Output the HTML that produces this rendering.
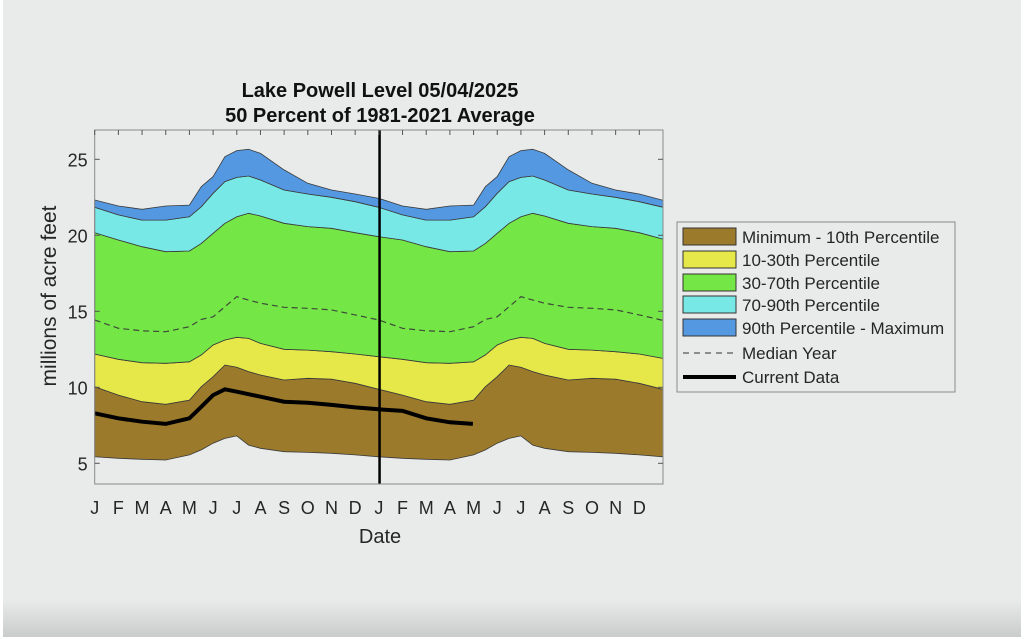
<!DOCTYPE html>
<html><head><meta charset="utf-8"><style>
html,body{margin:0;padding:0;background:#fff;}
#wrap{position:absolute;left:3px;top:0;width:1018px;height:637px;background:linear-gradient(#e8ebea 0,#e8ebea 600px,#c9cccb 637px);}
svg{position:absolute;left:0;top:0;}
text{font-family:"Liberation Sans",Arial,sans-serif;fill:#262626;}
</style></head><body>
<div id="wrap"></div>
<svg id="chart" width="1024" height="639"></svg>
<script>
const months=[0,1,2,3,4,4.5,5,5.5,6,6.5,7,8,9,10,11,12,13,14,15,16,16.5,17,17.5,18,18.5,19,20,21,22,23,24];
const minV=[5.43,5.33,5.26,5.22,5.55,5.88,6.32,6.64,6.8,6.2,5.99,5.76,5.72,5.66,5.55,5.43,5.33,5.26,5.22,5.55,5.88,6.32,6.64,6.8,6.2,5.99,5.76,5.72,5.66,5.55,5.43];
const p10=[10.04,9.49,9.05,8.88,9.16,10.04,10.7,11.47,11.32,11.03,10.81,10.48,10.59,10.53,10.26,9.87,9.49,9.05,8.88,9.16,10.04,10.7,11.47,11.32,11.03,10.81,10.48,10.59,10.53,10.26,9.87];
const p30=[12.19,11.84,11.62,11.58,11.68,12.13,12.78,13.11,13.29,13.22,12.89,12.5,12.45,12.34,12.19,12.01,11.84,11.62,11.58,11.68,12.13,12.78,13.11,13.29,13.22,12.89,12.5,12.45,12.34,12.19,11.9];
const p70=[20.17,19.69,19.25,18.92,18.97,19.47,20.13,20.79,21.22,21.45,21.27,20.79,20.57,20.46,20.17,19.91,19.69,19.25,18.92,18.97,19.47,20.13,20.79,21.22,21.45,21.27,20.79,20.57,20.46,20.17,19.75];
const p90=[21.84,21.34,21.0,21.0,21.22,21.88,22.76,23.53,23.81,23.9,23.64,22.98,22.72,22.5,22.21,21.84,21.34,21.0,21.0,21.22,21.88,22.76,23.53,23.81,23.9,23.64,22.98,22.72,22.5,22.21,21.85];
const maxV=[22.32,21.93,21.71,21.93,21.99,23.2,23.86,25.17,25.57,25.66,25.39,24.3,23.42,22.98,22.72,22.43,21.93,21.71,21.93,21.99,23.2,23.86,25.17,25.57,25.66,25.39,24.3,23.42,22.98,22.72,22.3];
const median=[14.43,13.88,13.72,13.66,13.99,14.47,14.64,15.3,15.96,15.74,15.53,15.26,15.2,15.09,14.76,14.43,13.88,13.72,13.66,13.99,14.47,14.64,15.3,15.96,15.74,15.53,15.26,15.2,15.09,14.76,14.4];
const currentMonths=[0,1,2,3,4,4.5,5,5.5,6,7,8,9,10,11,12,13,14,15,15.97];
const currentV=[8.29,7.96,7.74,7.59,7.96,8.72,9.49,9.87,9.71,9.38,9.05,8.99,8.84,8.68,8.55,8.45,7.96,7.7,7.59];
const todayMonth=12.03;
const yTicks=[5,10,15,20,25];
const monthLabels=["J","F","M","A","M","J","J","A","S","O","N","D","J","F","M","A","M","J","J","A","S","O","N","D"];

const L=94.7,R=663,T=130,B=484;
const X=m=>L+m*(R-L)/24;
const Y=v=>463.3-(v-5)*15.2;
const NS="http://www.w3.org/2000/svg";
const svg=document.getElementById('chart');
function mk(tag,attrs,parent){const e=document.createElementNS(NS,tag);for(const k in attrs)e.setAttribute(k,attrs[k]);(parent||svg).appendChild(e);return e;}
function line(ms,vs){return ms.map((m,i)=>(i?'L':'M')+X(m).toFixed(1)+','+Y(vs[i]).toFixed(1)).join('');}
function band(lo,hi){let d=line(months,hi);for(let i=months.length-1;i>=0;i--)d+='L'+X(months[i]).toFixed(1)+','+Y(lo[i]).toFixed(1);return d+'Z';}

const bands=[[minV,p10,'#9c7a2c','band-min-10th'],[p10,p30,'#e6e84a','band-10-30th'],[p30,p70,'#74e646','band-30-70th'],[p70,p90,'#78e8e6','band-70-90th'],[p90,maxV,'#5498e2','band-90th-max']];
bands.forEach(b=>{
  const p=mk('path',{d:band(b[0],b[1]),fill:b[2],stroke:'#3a3a3a','stroke-width':0.8});
  
  
});
const med=mk('path',{d:line(months,median),fill:'none',stroke:'#3f4a3a','stroke-width':1.2,'stroke-dasharray':'6,4'});


const cur=mk('path',{d:line(currentMonths,currentV),fill:'none',stroke:'#000','stroke-width':4});


const tl=mk('line',{x1:X(todayMonth),x2:X(todayMonth),y1:T,y2:B,stroke:'#000','stroke-width':2.5});



const box=mk('rect',{x:L,y:T,width:R-L,height:B-T,fill:'none',stroke:'#8a8a8a','stroke-width':1});



monthLabels.forEach((lab,i)=>{
  mk('line',{x1:X(i),x2:X(i),y1:T,y2:T+5,stroke:'#555','stroke-width':1});
  const t=mk('text',{x:X(i),y:514,'text-anchor':'middle','font-size':18});
  t.textContent=lab;
  
  
});
yTicks.forEach(v=>{
  mk('line',{x1:L,x2:L+5,y1:Y(v),y2:Y(v),stroke:'#555','stroke-width':1});
  mk('line',{x1:R-5,x2:R,y1:Y(v),y2:Y(v),stroke:'#555','stroke-width':1});
  const t=mk('text',{x:L-7,y:Y(v)+7,'text-anchor':'end','font-size':18});
  t.textContent=v;
  
  
});
</script>
<svg width="1024" height="639" style="position:absolute;left:0;top:0;pointer-events:none">
<text x="380" y="97" text-anchor="middle" font-size="20" font-weight="bold" style="fill:#111">Lake Powell Level 05/04/2025</text>
<text x="380" y="122" text-anchor="middle" font-size="20" font-weight="bold" style="fill:#111">50 Percent of 1981-2021 Average</text>
<text x="380" y="543" text-anchor="middle" font-size="20">Date</text>
<text transform="translate(56,296) rotate(-90)" text-anchor="middle" font-size="21">millions of acre feet</text>
<g>
<rect x="677" y="222" width="278" height="170" fill="#e8ebea" stroke="#8a8a8a" stroke-width="1"/>
<g><rect x="683" y="228" width="53" height="17" fill="#9c7a2c" stroke="#333"/><text x="742" y="243" font-size="17">Minimum - 10th Percentile</text></g>
<g><rect x="683" y="251" width="53" height="17" fill="#e6e84a" stroke="#333"/><text x="742" y="266" font-size="17">10-30th Percentile</text></g>
<g><rect x="683" y="274" width="53" height="17" fill="#74e646" stroke="#333"/><text x="742" y="289" font-size="17">30-70th Percentile</text></g>
<g><rect x="683" y="296" width="53" height="17" fill="#78e8e6" stroke="#333"/><text x="742" y="311" font-size="17">70-90th Percentile</text></g>
<g><rect x="683" y="319" width="53" height="17" fill="#5498e2" stroke="#333"/><text x="742" y="334" font-size="17">90th Percentile - Maximum</text></g>
<g><line x1="683" x2="736" y1="353" y2="353" stroke="#555" stroke-width="1.2" stroke-dasharray="6,5"/><text x="742" y="359" font-size="17">Median Year</text></g>
<g><line x1="683" x2="736" y1="377" y2="377" stroke="#000" stroke-width="4"/><text x="742" y="383" font-size="17">Current Data</text></g>
</g>
</svg>
</body></html>
